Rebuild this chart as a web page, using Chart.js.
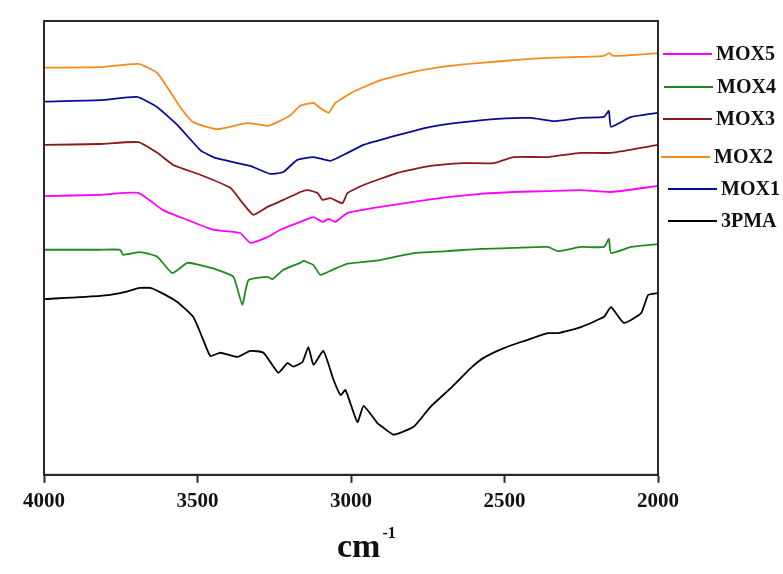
<!DOCTYPE html>
<html>
<head>
<meta charset="utf-8">
<script src="https://cdn.jsdelivr.net/npm/chart.js@4.4.0/dist/chart.umd.min.js"></script>
<style>
  html, body { margin: 0; padding: 0; background: #fff; }
  #wrap { width: 783px; height: 574px; position: relative; }
</style>
</head>
<body>
<div id="wrap"><canvas id="chart"></canvas></div>
<script>
// IR spectra (transmittance, arbitrary offset units)
const mox2Wn = [4000, 3817, 3693, 3631, 3556, 3514, 3436, 3338, 3272, 3240, 3197, 3165, 3122, 3100, 3073, 3051, 2992, 2904, 2796, 2685, 2578, 2470, 2359, 2251, 2176, 2160, 2144, 2000];
const mox2T  = [90.0, 90.1, 90.8, 88.8, 81.5, 78.3, 76.8, 78.1, 77.5, 78.3, 79.8, 81.8, 82.4, 81.3, 80.3, 82.4, 84.8, 87.3, 89.1, 90.3, 91.0, 91.6, 92.1, 92.3, 92.5, 93.1, 92.5, 93.1];

const mox1Wn = [4000, 3817, 3697, 3631, 3566, 3491, 3449, 3383, 3328, 3263, 3220, 3175, 3122, 3067, 3011, 2959, 2848, 2741, 2633, 2522, 2414, 2339, 2251, 2176, 2160, 2153, 2088, 2000];
const mox1T  = [82.7, 83.0, 83.7, 81.5, 77.7, 72.3, 70.8, 69.7, 68.9, 67.2, 67.6, 70.2, 70.8, 70.0, 71.7, 73.4, 75.5, 77.3, 78.3, 79.0, 79.2, 78.5, 79.2, 79.4, 80.7, 77.3, 79.4, 80.3];

const mox3Wn = [4000, 3817, 3693, 3631, 3579, 3491, 3393, 3361, 3318, 3272, 3220, 3165, 3142, 3109, 3093, 3067, 3028, 3011, 2959, 2848, 2741, 2633, 2535, 2470, 2359, 2251, 2153, 2000];
const mox3T  = [73.4, 73.6, 74.0, 71.7, 69.1, 67.0, 64.2, 61.6, 58.4, 60.1, 61.6, 63.3, 63.7, 63.1, 61.6, 62.0, 60.9, 63.1, 64.8, 67.4, 68.9, 69.5, 69.5, 70.8, 70.8, 71.7, 71.7, 73.4];

const mox5Wn = [4000, 3817, 3693, 3612, 3533, 3449, 3361, 3328, 3272, 3230, 3165, 3122, 3093, 3073, 3051, 3011, 2904, 2796, 2685, 2578, 2470, 2359, 2251, 2153, 2000];
const mox5T  = [62.4, 62.7, 63.1, 59.4, 57.3, 55.2, 54.5, 52.4, 53.6, 55.2, 56.9, 57.9, 56.9, 57.5, 56.9, 58.8, 60.1, 61.2, 62.2, 62.9, 63.3, 63.5, 63.7, 63.3, 64.6];

const mox4Wn = [4000, 3817, 3752, 3742, 3687, 3631, 3582, 3533, 3491, 3436, 3383, 3354, 3334, 3272, 3256, 3220, 3165, 3155, 3122, 3100, 3060, 3011, 2904, 2796, 2685, 2578, 2470, 2359, 2326, 2251, 2176, 2160, 2153, 2088, 2000];
const mox4T  = [50.9, 50.9, 50.9, 49.8, 50.4, 49.4, 45.9, 48.1, 47.6, 46.6, 45.1, 39.1, 44.4, 45.1, 44.6, 46.6, 48.1, 48.5, 47.6, 45.5, 46.6, 47.9, 48.7, 50.2, 50.6, 51.1, 51.3, 51.5, 50.6, 51.5, 51.5, 53.2, 50.2, 51.5, 52.1];

const pmaWn = [4000, 3817, 3752, 3687, 3654, 3622, 3566, 3514, 3481, 3458, 3426, 3370, 3328, 3285, 3237, 3207, 3188, 3158, 3139, 3122, 3090, 3057, 3034, 3018, 2979, 2959, 2914, 2894, 2861, 2796, 2741, 2675, 2610, 2568, 2502, 2437, 2359, 2326, 2251, 2176, 2153, 2111, 2055, 2032, 2000];
const pmaT  = [40.3, 41.0, 41.6, 42.7, 42.7, 41.8, 39.7, 36.5, 31.5, 28.1, 28.8, 27.9, 29.2, 28.8, 24.5, 26.6, 25.8, 26.8, 30.0, 26.2, 29.2, 23.0, 19.7, 20.8, 13.9, 17.4, 13.7, 12.7, 11.2, 12.9, 17.2, 21.2, 25.5, 27.7, 29.8, 31.3, 33.0, 33.0, 34.3, 36.5, 38.6, 35.2, 37.3, 41.2, 41.6];

const xTicks = [4000, 3500, 3000, 2500, 2000];

// legend order as in the figure (top to bottom)
const legendOrder = ['MOX5', 'MOX4', 'MOX3', 'MOX2', 'MOX1', '3PMA'];

const toPts = (wn, t) => wn.map((w, i) => ({ x: w, y: t[i] }));

const series = [
  { label: 'MOX2', wn: mox2Wn, t: mox2T, color: '#f28c1c' },
  { label: 'MOX1', wn: mox1Wn, t: mox1T, color: '#0a0a96' },
  { label: 'MOX3', wn: mox3Wn, t: mox3T, color: '#8b1a1a' },
  { label: 'MOX5', wn: mox5Wn, t: mox5T, color: '#ff00ff' },
  { label: 'MOX4', wn: mox4Wn, t: mox4T, color: '#1f8a1f' },
  { label: '3PMA', wn: pmaWn, t: pmaT, color: '#000000' },
];

const FONT = '"Liberation Serif", "Times New Roman", serif';

// frame box, side legend and the cm-1 axis title
const decorPlugin = {
  id: 'decor',
  afterDraw(chart) {
    const { ctx, chartArea: a } = chart;
    ctx.save();
    ctx.strokeStyle = '#2a2a2a';
    ctx.lineWidth = 2;
    ctx.strokeRect(a.left, a.top, a.right - a.left, a.bottom - a.top);

    // legend
    const rows = [54, 87, 119, 157, 189, 221];
    const starts = [663, 664, 663, 661, 668, 668];
    ctx.font = 'bold 20px ' + FONT;
    ctx.textBaseline = 'middle';
    legendOrder.forEach((name, i) => {
      const ds = chart.data.datasets.find(d => d.label === name);
      const y = rows[i];
      ctx.strokeStyle = ds.borderColor;
      ctx.lineWidth = 2;
      ctx.beginPath();
      ctx.moveTo(starts[i], y);
      ctx.lineTo(starts[i] + 49, y);
      ctx.stroke();
      ctx.fillStyle = '#111';
      ctx.fillText(name, starts[i] + 53, y + 1);
    });

    // axis title
    const cx = (a.left + a.right) / 2;
    ctx.fillStyle = '#111';
    ctx.textBaseline = 'alphabetic';
    ctx.font = 'bold 34px ' + FONT;
    ctx.fillText('cm', cx - 14, a.bottom + 82);
    const w = ctx.measureText('cm').width;
    ctx.font = 'bold 16px ' + FONT;
    ctx.fillText('-1', cx - 14 + w + 2, a.bottom + 63);
    ctx.restore();
  }
};

new Chart(document.getElementById('chart'), {
  type: 'line',
  data: {
    datasets: series.map(s => ({
      label: s.label,
      data: toPts(s.wn, s.t),
      borderColor: s.color,
      backgroundColor: s.color,
      borderWidth: 1.8,
      pointRadius: 0,
      tension: 0.15,
      fill: false
    }))
  },
  options: {
    responsive: true,
    maintainAspectRatio: false,
    animation: false,
    layout: { padding: { left: 44, right: 125, top: 21, bottom: 54 } },
    plugins: {
      legend: { display: false },
      tooltip: { enabled: false }
    },
    scales: {
      x: {
        type: 'linear',
        reverse: true,
        min: 2000,
        max: 4000,
        afterBuildTicks: axis => { axis.ticks = xTicks.map(v => ({ value: v })); },
        grid: { drawOnChartArea: false, tickLength: 8, tickColor: '#2a2a2a', tickWidth: 2 },
        border: { color: '#2a2a2a', width: 2 },
        ticks: {
          color: '#111',
          padding: 6,
          maxRotation: 0,
          font: { family: FONT, size: 21, weight: 'bold' },
          callback: v => String(v)
        }
      },
      y: {
        display: false,
        min: 2.6,
        max: 100
      }
    }
  },
  plugins: [decorPlugin]
});
</script>
</body>
</html>
